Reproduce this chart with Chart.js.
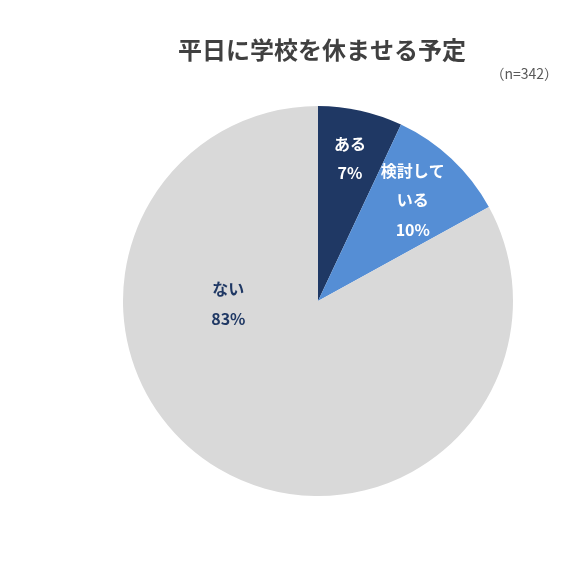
<!DOCTYPE html>
<html lang="ja">
<head>
  <meta charset="UTF-8">
  <title>平日に学校を休ませる予定</title>
  <script src="https://cdn.jsdelivr.net/npm/chart.js"></script>
  <style>
    body { margin: 0; background: #fff; }
    .chart-container { width: 581px; height: 562px; }
  </style>
</head>
<body>
  <div class="chart-container">
    <canvas id="pieChart"></canvas>
  </div>
  <script>
    const categories = ['ある', '検討している', 'ない'];
    const shares = [7, 10, 83];
    const labelLines = [['ある', '7%'], ['検討して', 'いる', '10%'], ['ない', '83%']];
    const chartTitle = '平日に学校を休ませる予定';
    const sampleNote = '（n=342）';

    const sliceColors = ['#1F3864', '#558ED5', '#D9D9D9'];
    const fontFamily = '"Noto Sans CJK JP", "Noto Sans", sans-serif';

    // where each label sits: fraction of radius, and angle override (deg from top, clockwise)
    const labelPlacement = [
      { r: 0.75, angle: null, color: '#ffffff' },
      { r: 0.71, angle: null, color: '#ffffff' },
      { r: 0.46, angle: 268, color: '#1F3864' }
    ];

    const textPlugin = {
      id: 'pieText',
      afterDraw(chart) {
        const ctx = chart.ctx;
        ctx.save();
        // title
        ctx.fillStyle = '#404040';
        ctx.font = 'bold 24px ' + fontFamily;
        ctx.textAlign = 'center';
        ctx.textBaseline = 'middle';
        ctx.fillText(chartTitle, 322, 50);
        ctx.fillStyle = '#595959';
        ctx.font = '14px ' + fontFamily;
        ctx.textAlign = 'right';
        ctx.fillText(sampleNote, 558, 74);

        // slice labels
        const meta = chart.getDatasetMeta(0);
        meta.data.forEach((arc, i) => {
          const p = labelPlacement[i];
          const props = arc.getProps(['x', 'y', 'startAngle', 'endAngle', 'outerRadius'], true);
          let a = (props.startAngle + props.endAngle) / 2;
          if (p.angle !== null) a = (p.angle - 90) * Math.PI / 180;
          const cx = props.x + Math.cos(a) * props.outerRadius * p.r;
          const cy = props.y + Math.sin(a) * props.outerRadius * p.r;
          const lines = labelLines[i];
          const lh = 29.5;
          ctx.fillStyle = p.color;
          ctx.font = 'bold 16px ' + fontFamily;
          ctx.textAlign = 'center';
          lines.forEach((t, k) => {
            ctx.fillText(t, cx, cy + (k - (lines.length - 1) / 2) * lh);
          });
        });
        ctx.restore();
      }
    };

    new Chart(document.getElementById('pieChart'), {
      type: 'pie',
      data: {
        labels: categories,
        datasets: [{
          data: shares,
          backgroundColor: sliceColors,
          borderWidth: 0
        }]
      },
      options: {
        responsive: true,
        maintainAspectRatio: false,
        animation: false,
        layout: { padding: { left: 123, right: 68, top: 106, bottom: 66 } },
        plugins: {
          legend: { display: false },
          title: { display: false },
          tooltip: { enabled: false }
        }
      },
      plugins: [textPlugin]
    });
  </script>
</body>
</html>
